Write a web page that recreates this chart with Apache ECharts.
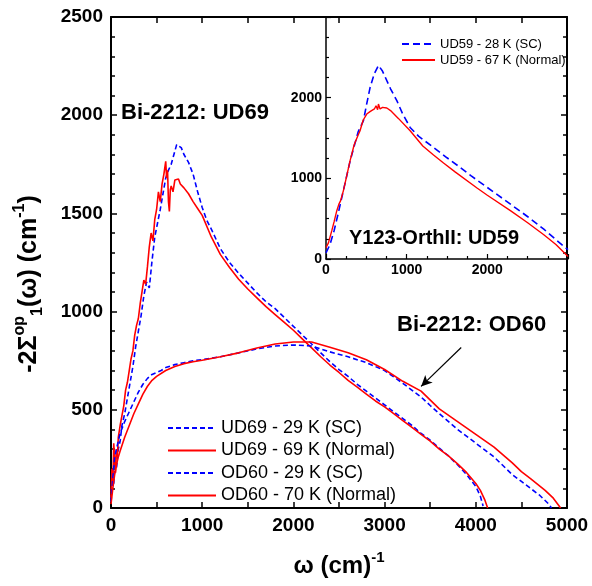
<!DOCTYPE html>
<html>
<head>
<meta charset="utf-8">
<script src="https://cdn.jsdelivr.net/npm/echarts@6/dist/echarts.min.js"></script>
<style>
html,body{margin:0;padding:0;background:#fff;}
#c{width:592px;height:586px;}
</style>
</head>
<body>
<div id="c"></div>
<script>
// ---------- Main panel data (omega in cm^-1, value in cm^-1) ----------
const ud69ScW = [0,15,30,45,60,80,100,120,150,180,210,240,270,300,330,360,390,420,450,480,510,540,570,600,630,660,690,720,740,770,800,850,900,950,1000,1050,1100,1200,1300,1400,1500,1600,1700,1800,1900,2000,2100,2200,2300,2400,2500,2600,2700,2800,2900,3000,3100,3200,3300,3400,3500,3600,3700,3800,3900,4000,4050,4080];
const ud69ScV = [40,180,120,260,200,300,340,420,480,560,640,720,820,900,980,1080,1150,1120,1260,1380,1450,1520,1600,1680,1720,1750,1800,1850,1855,1835,1800,1760,1700,1610,1530,1465,1420,1320,1250,1195,1145,1095,1050,1015,970,925,880,835,790,745,705,670,630,595,560,525,490,455,420,380,345,305,265,220,170,110,60,10];

const ud69NW = [0,10,20,30,40,50,60,70,80,100,120,140,160,180,200,220,240,260,280,300,320,340,360,380,400,420,440,460,480,500,520,540,560,580,600,610,620,630,640,650,660,680,700,720,740,760,780,800,850,900,950,1000,1100,1200,1300,1400,1500,1600,1700,1800,1900,2000,2100,2200,2300,2400,2500,2600,2700,2800,2900,3000,3100,3200,3300,3400,3500,3600,3700,3800,3900,4000,4050,4100,4130];
const ud69NV = [50,200,120,330,250,180,300,260,360,420,470,520,600,640,700,760,800,880,930,965,1040,1100,1160,1140,1230,1330,1400,1360,1470,1520,1610,1560,1650,1700,1765,1680,1720,1560,1510,1620,1640,1610,1670,1660,1675,1650,1660,1630,1600,1560,1525,1490,1380,1290,1225,1165,1115,1070,1025,985,945,905,860,815,770,728,690,650,615,580,545,515,480,445,410,375,340,300,265,225,180,125,90,40,0];

const od60ScW = [0,20,40,60,80,100,150,200,250,300,350,400,450,500,550,600,700,800,900,1000,1200,1400,1600,1800,2000,2200,2400,2600,2800,3000,3200,3400,3500,3600,3800,4000,4200,4400,4500,4600,4700,4800,4830];
const od60ScV = [30,150,260,300,340,380,440,490,540,590,630,660,680,690,700,715,730,740,750,755,770,790,810,825,830,825,795,770,740,700,635,565,522,480,400,330,260,170,135,100,65,20,0];

const od60NW = [0,20,40,60,80,100,150,200,250,300,350,400,450,500,600,700,800,900,1000,1200,1400,1600,1800,2000,2200,2400,2600,2800,3000,3200,3400,3600,3800,4000,4200,4400,4500,4600,4760,4850,4930];
const od60NV = [20,100,170,220,260,290,360,420,480,530,580,620,650,670,700,720,735,745,752,770,790,815,835,845,845,818,790,755,705,645,595,505,440,375,310,230,185,150,90,50,0];

// ---------- Inset data (Y123 Ortho-II UD59) ----------
const ud59ScW = [0,50,100,150,200,250,300,350,400,464,500,547,600,650,700,754,800,878,950,1043,1150,1333,1500,1665,1800,2079,2300,2493,2700,2850,2969,3000];
const ud59ScV = [77,180,350,560,780,1000,1220,1400,1580,1714,1900,2128,2300,2400,2330,2211,2110,1963,1800,1631,1520,1383,1255,1134,1030,830,670,530,370,240,140,115];

const ud59NW = [0,30,71,100,133,160,180,200,215,250,298,350,400,422,460,505,550,600,620,640,650,670,700,754,800,900,1043,1200,1333,1457,1600,1872,2000,2286,2500,2700,2850,3000];
const ud59NV = [140,200,348,460,596,680,720,700,845,1000,1217,1420,1540,1590,1720,1797,1830,1860,1900,1850,1921,1860,1880,1872,1840,1740,1590,1400,1290,1190,1080,880,790,600,450,300,180,30];

// ---------- Names / labels ----------
const mainNames = ['UD69 - 29 K (SC)','UD69 - 69 K (Normal)','OD60 - 29 K (SC)','OD60 - 70 K (Normal)'];
const insetNames = ['UD59 - 28 K (SC)','UD59 - 67 K (Normal)'];
const mainXRange = [0, 5000, 1000];
const mainYRange = [0, 2500, 500];
const insetRange = [0, 3000, 1000];

const zip = (a, b) => a.map((v, i) => [v, b[i]]);
const FONT = 'Liberation Sans, Arial, sans-serif';
const BLUE = '#0000ff', RED = '#ff0000';

const chart = echarts.init(document.getElementById('c'), null, {renderer: 'canvas'});

function axisCommon(extra) {
  return Object.assign({
    axisLine: {show: true, onZero: false, lineStyle: {color: '#000', width: 2}},
    axisTick: {show: true, inside: true, length: 6, lineStyle: {color: '#000', width: 1.5}},
    minorTick: {show: true, length: 4, lineStyle: {color: '#000', width: 1.5}},
    splitLine: {show: false},
    minorSplitLine: {show: false}
  }, extra);
}

function lineSeries(name, data, color, dashed, xi, yi, width, dash) {
  return {
    name, type: 'line', data, xAxisIndex: xi, yAxisIndex: yi,
    symbol: 'none', showSymbol: false, animation: false,
    lineStyle: {color, width: width, type: dashed ? (dash || [5, 3]) : 'solid'},
    itemStyle: {color}
  };
}

const plain = v => String(v);
const insetFmt = v => (v === insetRange[1] ? '' : String(v));

const od60Normal = lineSeries(mainNames[3], zip(od60NW, od60NV), RED, false, 0, 0, 1.6);
od60Normal.markLine = {
  silent: true, animation: false,
  symbol: ['none', 'arrow'], symbolSize: [8, 11],
  lineStyle: {color: '#000', width: 1.2, type: 'solid'},
  label: {show: false},
  data: [[{coord: [3840, 817]}, {coord: [3400, 619]}]]
};

const option = {
  animation: false,
  backgroundColor: '#fff',
  textStyle: {fontFamily: FONT},
  grid: [
    {left: 111, top: 17, width: 456, height: 491, containLabel: false},
    {left: 326, top: 17, width: 242, height: 242, containLabel: false}
  ],
  xAxis: [
    axisCommon({gridIndex: 0, type: 'value', position: 'bottom', min: mainXRange[0], max: mainXRange[1], interval: mainXRange[2],
      minorTick: {show: true, splitNumber: 2, length: 6, lineStyle: {color: '#000', width: 1.5}},
      axisLabel: {color: '#000', fontFamily: FONT, fontWeight: 'bold', fontSize: 19, margin: 8, formatter: plain}}),
    axisCommon({gridIndex: 0, type: 'value', position: 'top', min: mainXRange[0], max: mainXRange[1], interval: mainXRange[2],
      minorTick: {show: true, splitNumber: 2, length: 6, lineStyle: {color: '#000', width: 1.5}},
      axisLabel: {show: false}}),
    axisCommon({gridIndex: 1, type: 'value', position: 'bottom', min: insetRange[0], max: insetRange[1], interval: insetRange[2],
      axisLine: {show: true, onZero: false, lineStyle: {color: '#000', width: 1.5}},
      axisTick: {show: true, inside: true, length: 5, lineStyle: {color: '#000', width: 1.2}},
      minorTick: {show: true, splitNumber: 4, length: 3, lineStyle: {color: '#000', width: 1.2}},
      axisLabel: {color: '#000', fontFamily: FONT, fontWeight: 'bold', fontSize: 14, margin: 4, formatter: insetFmt}})
  ],
  yAxis: [
    axisCommon({gridIndex: 0, type: 'value', position: 'left', min: mainYRange[0], max: mainYRange[1], interval: mainYRange[2],
      minorTick: {show: true, splitNumber: 5, length: 4, lineStyle: {color: '#000', width: 1.5}},
      axisLabel: {color: '#000', fontFamily: FONT, fontWeight: 'bold', fontSize: 19, margin: 8, formatter: plain}}),
    axisCommon({gridIndex: 0, type: 'value', position: 'right', min: mainYRange[0], max: mainYRange[1], interval: mainYRange[2],
      minorTick: {show: true, splitNumber: 5, length: 4, lineStyle: {color: '#000', width: 1.5}},
      axisLabel: {show: false}}),
    axisCommon({gridIndex: 1, type: 'value', position: 'left', min: insetRange[0], max: insetRange[1], interval: insetRange[2],
      axisLine: {show: true, onZero: false, lineStyle: {color: '#000', width: 1.5}},
      axisTick: {show: true, inside: true, length: 5, lineStyle: {color: '#000', width: 1.2}},
      minorTick: {show: true, splitNumber: 4, length: 3, lineStyle: {color: '#000', width: 1.2}},
      axisLabel: {color: '#000', fontFamily: FONT, fontWeight: 'bold', fontSize: 14, margin: 4, formatter: insetFmt}})
  ],
  legend: [
    {
      data: mainNames, orient: 'vertical', left: 162, top: 414,
      itemWidth: 48, itemHeight: 14, itemGap: 4.5,
      itemStyle: {opacity: 0},
      textStyle: {color: '#000', fontFamily: FONT, fontSize: 18, lineHeight: 18},
      selectedMode: false
    },
    {
      data: insetNames, orient: 'vertical', left: 396, top: 32,
      itemWidth: 33, itemHeight: 10, itemGap: 2,
      itemStyle: {opacity: 0},
      textStyle: {color: '#000', fontFamily: FONT, fontSize: 13, lineHeight: 14},
      selectedMode: false
    }
  ],
  series: [
    lineSeries(mainNames[0], zip(ud69ScW, ud69ScV), BLUE, true, 0, 0, 1.6),
    lineSeries(mainNames[1], zip(ud69NW, ud69NV), RED, false, 0, 0, 1.6),
    lineSeries(mainNames[2], zip(od60ScW, od60ScV), BLUE, true, 0, 0, 1.6),
    od60Normal,
    lineSeries(insetNames[0], zip(ud59ScW, ud59ScV), BLUE, true, 2, 2, 1.6, [7, 4]),
    lineSeries(insetNames[1], zip(ud59NW, ud59NV), RED, false, 2, 2, 1.4)
  ],
  graphic: [
    {type: 'text', left: 121, top: 102, silent: true,
      style: {text: 'Bi-2212: UD69', fill: '#000', font: 'bold 22px ' + FONT}},
    {type: 'text', left: 397, top: 314, silent: true,
      style: {text: 'Bi-2212: OD60', fill: '#000', font: 'bold 22px ' + FONT}},
    {type: 'text', left: 349, top: 228, silent: true,
      style: {text: 'Y123-OrthII: UD59', fill: '#000', font: 'bold 20px ' + FONT}},
    {type: 'text', x: 29, y: 284, rotation: Math.PI / 2, silent: true,
      style: {
        text: '{b|-2Σ}{sup|op}{sub|1}{b|(ω) (cm}{sup|-1}{b|)}',
        fill: '#000', align: 'center', verticalAlign: 'middle',
        rich: {
          b: {fontFamily: FONT, fontWeight: 'bold', fontSize: 25, lineHeight: 34, fill: '#000', verticalAlign: 'middle'},
          sup: {fontFamily: FONT, fontWeight: 'bold', fontSize: 16, lineHeight: 34, fill: '#000', verticalAlign: 'top'},
          sub: {fontFamily: FONT, fontWeight: 'bold', fontSize: 16, lineHeight: 34, fill: '#000', verticalAlign: 'bottom'}
        }
      }},
    {type: 'text', x: 339, y: 566, silent: true,
      style: {
        text: '{b|ω (cm)}{sup|-1}',
        fill: '#000', align: 'center', verticalAlign: 'middle',
        rich: {
          b: {fontFamily: FONT, fontWeight: 'bold', fontSize: 24, lineHeight: 32, fill: '#000', verticalAlign: 'middle'},
          sup: {fontFamily: FONT, fontWeight: 'bold', fontSize: 15, lineHeight: 32, fill: '#000', verticalAlign: 'top'}
        }
      }}
  ]
};
chart.setOption(option);
</script>
</body>
</html>
